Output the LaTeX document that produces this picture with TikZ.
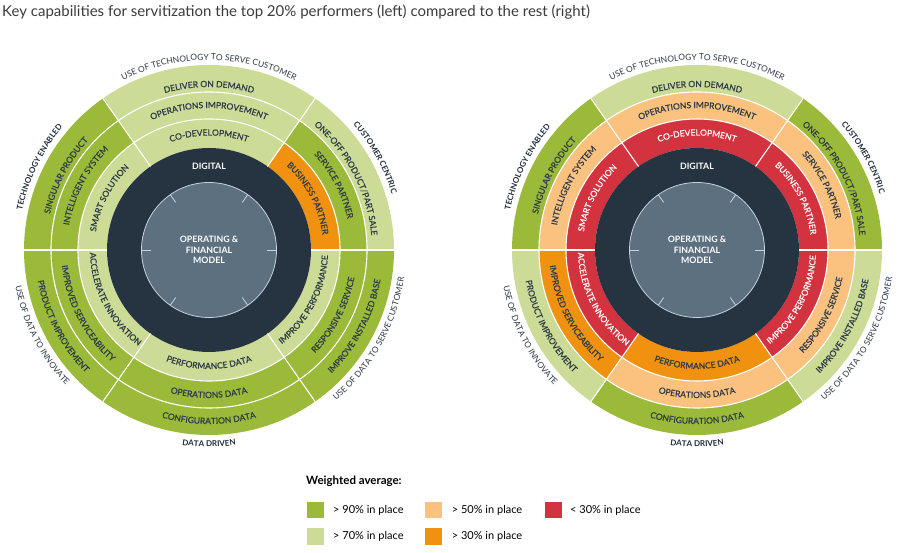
\documentclass[tikz,border=0pt]{standalone}
\usepackage{fontspec}
\setmainfont{Lato}
\newfontfamily\medfam{Lato}[BoldFont={Lato}, BoldFeatures={FakeBold=0.8}]
\usetikzlibrary{decorations.text}
\definecolor{dkgreen}{RGB}{155,186,58}
\definecolor{ltgreen}{RGB}{204,219,150}
\definecolor{ltorange}{RGB}{250,194,126}
\definecolor{orangec}{RGB}{240,146,15}
\definecolor{redc}{RGB}{211,51,63}
\definecolor{darkring}{RGB}{38,51,64}
\definecolor{innerc}{RGB}{93,112,128}
\definecolor{innerline}{RGB}{200,210,220}
\definecolor{labtxt}{RGB}{45,58,72}
\definecolor{boldtxt}{RGB}{30,44,60}
\definecolor{titlec}{RGB}{60,60,60}
\newcommand{\ringfnt}{\medfam\bfseries\fontsize{8.5}{9}\selectfont}
\newcommand{\outfnt}{\fontsize{8.4}{9}\selectfont}
\newcommand{\boldfnt}{\fontsize{8}{9}\selectfont\bfseries}
\newcommand{\RingSector}[5]{\fill[#1] (#2:#4pt) arc[start angle=#2,end angle=#3,radius=#4pt] -- (#3:#5pt) arc[start angle=#3,end angle=#2,radius=#5pt] -- cycle;}
\newcommand{\ArcText}[6]{\path[decorate,decoration={text along path,text align=center,text color=#4,text={|#5|#6}}] (#2:#1pt) arc[start angle=#2,end angle=#3,radius=#1pt];}
\newcommand{\WheelBase}[1]{%
  \fill[darkring] (0,0) circle[radius=102pt];
  \fill[innerc] (0,0) circle[radius=67.5pt];
  \draw[innerline, line width=0.8pt] (0,0) circle[radius=67.5pt];
  \foreach \t in {0,55,125,180,235,305} \draw[innerline, line width=0.8pt] (\t:67.5pt) -- (\t:58pt);
  \node[font=\fontsize{8.8}{10.5}\selectfont\bfseries, text=white, align=center, inner sep=0] (#1model) at (0,0) {OPERATING \&\\FINANCIAL\\MODEL};
  \node[font=\fontsize{8.8}{10}\selectfont\bfseries, text=white, inner sep=0] (#1digital) at (0,84) {DIGITAL};
  \draw[white, line width=1.1pt] (0,0) circle[radius=131pt] (0,0) circle[radius=158pt];
  \foreach \t in {0,55,125,180,235,305} \draw[white, line width=1.1pt] (\t:102pt) -- (\t:185pt);
}
\newcommand{\WheelTexts}[1]{%
  % ring 1
  \ArcText{114.5}{140}{40}{#1}{\ringfnt}{CO-DEVELOPMENT}
  \ArcText{114.5}{197.5}{107.5}{#1}{\ringfnt}{SMART SOLUTION}
  \ArcText{114.5}{72.5}{-17.5}{#1}{\ringfnt}{BUSINESS PARTNER}
  \ArcText{119}{162.5}{252.5}{#1}{\ringfnt}{ACCELERATE INNOVATION}
  \ArcText{119}{220}{320}{labtxt}{\ringfnt}{PERFORMANCE DATA}
  \ArcText{119}{287.5}{377.5}{#1}{\ringfnt}{IMPROVE PERFORMANCE}
  % ring 2
  \ArcText{142}{140}{40}{labtxt}{\ringfnt}{OPERATIONS IMPROVEMENT}
  \ArcText{142}{197.5}{107.5}{labtxt}{\ringfnt}{INTELLIGENT SYSTEM}
  \ArcText{142}{72.5}{-17.5}{labtxt}{\ringfnt}{SERVICE PARTNER}
  \ArcText{148}{162.5}{252.5}{labtxt}{\ringfnt}{IMPROVED SERVICEABILITY}
  \ArcText{148}{220}{320}{labtxt}{\ringfnt}{OPERATIONS DATA}
  \ArcText{148}{287.5}{377.5}{labtxt}{\ringfnt}{RESPONSIVE SERVICE}
  % ring 3
  \ArcText{163}{140}{40}{labtxt}{\ringfnt}{DELIVER ON DEMAND}
  \ArcText{163}{197.5}{107.5}{labtxt}{\ringfnt}{SINGULAR PRODUCT}
  \ArcText{163}{72.5}{-17.5}{labtxt}{\ringfnt}{ONE-OFF PRODUCT/PART SALE}
  \ArcText{174}{162.5}{252.5}{labtxt}{\ringfnt}{PRODUCT IMPROVEMENT}
  \ArcText{174}{220}{320}{labtxt}{\ringfnt}{CONFIGURATION DATA}
  \ArcText{174}{287.5}{377.5}{labtxt}{\ringfnt}{IMPROVE INSTALLED BASE}
  % outer labels
  \ArcText{190}{150}{30}{labtxt}{\outfnt}{USE OF TECHNOLOGY TO SERVE CUSTOMER}
  \ArcText{191}{204}{104}{boldtxt}{\boldfnt}{TECHNOLOGY ENABLED}
  \ArcText{191}{79}{-21}{boldtxt}{\boldfnt}{CUSTOMER CENTRIC}
  \ArcText{197}{157}{257}{labtxt}{\outfnt}{USE OF DATA TO INNOVATE}
  \ArcText{197}{271}{391}{labtxt}{\outfnt}{USE OF DATA TO SERVE CUSTOMER}
  \ArcText{197}{220}{320}{boldtxt}{\boldfnt}{DATA DRIVEN}
}
\begin{document}
\begin{tikzpicture}[x=1pt,y=1pt]
\useasboundingbox (0,0) rectangle (900,553);
\fill[white] (0,0) rectangle (900,553);
\node[anchor=west, font=\fontsize{15}{17}\selectfont, text=titlec, inner sep=0] (title) at (2,541) {Key capabilities for servitization the top 20\% performers (left) compared to the rest (right)};
% left wheel
\begin{scope}[shift={(209,303)}]
  \foreach \a/\b/\cA/\cB/\cC in {55/125/ltgreen/ltgreen/ltgreen, 125/180/ltgreen/dkgreen/dkgreen, 0/55/orangec/dkgreen/ltgreen, 180/235/ltgreen/dkgreen/dkgreen, 235/305/ltgreen/dkgreen/dkgreen, 305/360/ltgreen/dkgreen/dkgreen}
    {\RingSector{\cA}{\a}{\b}{102}{131}\RingSector{\cB}{\a}{\b}{131}{158}\RingSector{\cC}{\a}{\b}{158}{185}}
  \WheelBase{L}
  \WheelTexts{labtxt}
\end{scope}
% right wheel
\begin{scope}[shift={(697,303)}]
  \foreach \a/\b/\cA/\cB/\cC in {55/125/redc/ltorange/ltgreen, 125/180/redc/ltorange/dkgreen, 0/55/redc/ltorange/dkgreen, 180/235/redc/orangec/ltgreen, 235/305/orangec/ltorange/dkgreen, 305/360/redc/ltorange/ltgreen}
    {\RingSector{\cA}{\a}{\b}{102}{131}\RingSector{\cB}{\a}{\b}{131}{158}\RingSector{\cC}{\a}{\b}{158}{185}}
  \WheelBase{R}
  \WheelTexts{white}
\end{scope}
% legend
\tikzset{legsq/.style={minimum size=16.7pt, inner sep=0, anchor=west},
         legtx/.style={anchor=west, inner sep=0, font=\fontsize{11}{13}\selectfont, text=black}}
\node[anchor=west, inner sep=0, font=\fontsize{11.5}{13}\selectfont\bfseries] (legtitle) at (306,72) {Weighted average:};
\node[legsq, fill=dkgreen] (sq1) at (306.7,43) {};
\node[legtx] (t1) at (333,43) {> 90\% in place};
\node[legsq, fill=ltgreen] (sq2) at (306.7,16.5) {};
\node[legtx] (t2) at (333,16.5) {> 70\% in place};
\node[legsq, fill=ltorange] (sq3) at (425,43) {};
\node[legtx] (t3) at (451.7,43) {> 50\% in place};
\node[legsq, fill=orangec] (sq4) at (425,16.5) {};
\node[legtx] (t4) at (451.7,16.5) {> 30\% in place};
\node[legsq, fill=redc] (sq5) at (545,43) {};
\node[legtx] (t5) at (570,43) {< 30\% in place};
\end{tikzpicture}
\end{document}
